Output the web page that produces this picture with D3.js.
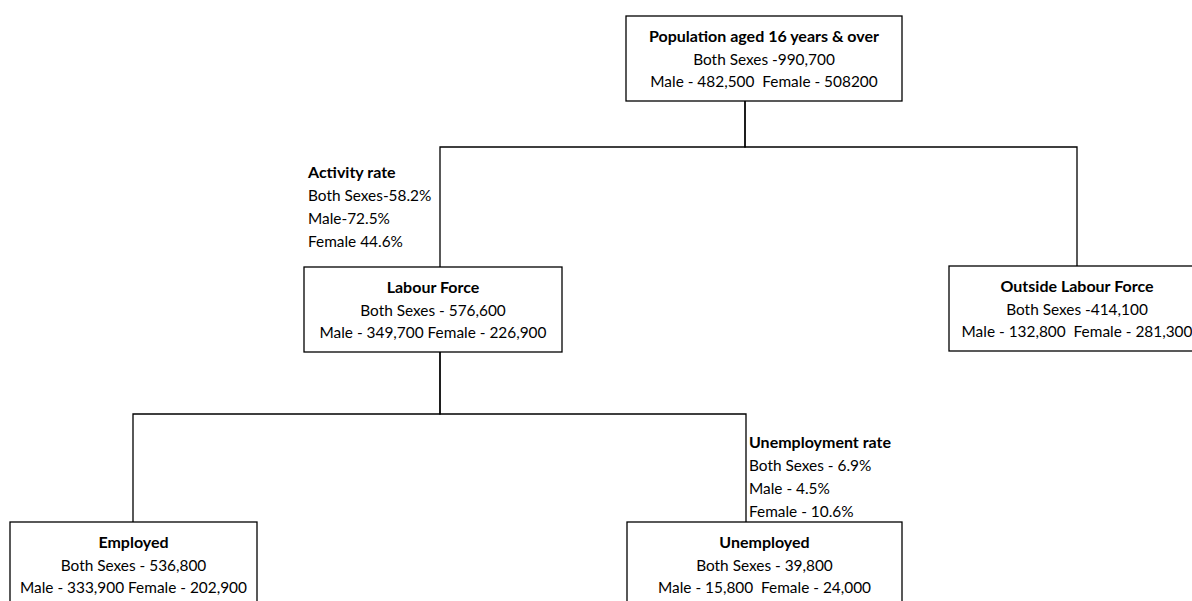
<!DOCTYPE html>
<html>
<head>
<meta charset="utf-8">
<script src="https://cdn.jsdelivr.net/npm/d3@7"></script>
<style>
  body { margin: 0; background: #fff; }
  svg { display: block; font-family: Lato, "Open Sans", sans-serif; }
</style>
</head>
<body>
<div id="chart-area"></div>
<script>
// node texts
var nodeTitles = ['Population aged 16 years & over', 'Labour Force', 'Outside Labour Force', 'Employed', 'Unemployed'];
var bothSexes = ['Both Sexes -990,700', 'Both Sexes - 576,600', 'Both Sexes -414,100', 'Both Sexes - 536,800', 'Both Sexes - 39,800'];
var maleFemale = ['Male - 482,500  Female - 508200', 'Male - 349,700 Female - 226,900', 'Male - 132,800  Female - 281,300',
                  'Male - 333,900 Female - 202,900', 'Male - 15,800  Female - 24,000'];
var parents = [null, 0, 0, 1, 1];

// rate notes
var rateTitles = ['Activity rate', 'Unemployment rate'];
var rateLines = [['Both Sexes-58.2%', 'Male-72.5%', 'Female 44.6%'],
                 ['Both Sexes - 6.9%', 'Male - 4.5%', 'Female - 10.6%']];

// layout (pixels)
var def = {
    width: 1192,
    height: 601,
    boxH: 85,
    fs: 15.4,
    fsBold: 16,
    lineGap: 23
};
var layout = [
    {cx: 764, top: 16, w: 276, stem: 745},
    {cx: 433, top: 267, w: 258, stem: 440},
    {cx: 1077, top: 266, w: 256, stem: 1077},
    {cx: 133.5, top: 522, w: 247, stem: 133},
    {cx: 764.5, top: 522, w: 275, stem: 746}
];
var elbowY = {0: 147, 1: 414};
var notePos = [{x: 308, y: 178}, {x: 749, y: 448}];

var x = d3.scaleLinear().domain([0, def.width]).range([0, def.width]);
var y = d3.scaleLinear().domain([0, def.height]).range([0, def.height]);

var nodes = nodeTitles.map(function(t, i) {
    return {id: i, title: t, both: bothSexes[i], mf: maleFemale[i], parent: parents[i], pos: layout[i]};
});

var svg = d3.select('#chart-area').append('svg')
    .attr('width', def.width)
    .attr('height', def.height);

// connectors
var links = svg.append('g').attr('class', 'links');
nodes.filter(function(d) { return d.parent !== null; }).forEach(function(d) {
    var p = nodes[d.parent];
    var ey = elbowY[p.id];
    links.append('path')
        .attr('d', 'M' + x(p.pos.stem) + ',' + y(p.pos.top + def.boxH) +
                   'V' + y(ey) + 'H' + x(d.pos.stem) + 'V' + y(d.pos.top))
        .attr('fill', 'none')
        .attr('stroke', '#000')
        .attr('stroke-width', 1.3);
});

// boxes
var box = svg.selectAll('g.node')
    .data(nodes)
    .enter()
    .append('g')
    .attr('class', 'node');

box.append('rect')
    .attr('x', function(d) { return x(d.pos.cx - d.pos.w / 2); })
    .attr('y', function(d) { return y(d.pos.top); })
    .attr('width', function(d) { return d.pos.w; })
    .attr('height', def.boxH)
    .attr('fill', '#fff')
    .attr('stroke', '#000')
    .attr('stroke-width', 1.3);

var rows = [
    {key: 'title', dy: 26, bold: true},
    {key: 'both', dy: 49, bold: false},
    {key: 'mf', dy: 71, bold: false}
];
rows.forEach(function(r) {
    box.append('text')
        .attr('x', function(d) { return x(d.pos.cx); })
        .attr('y', function(d) { return y(d.pos.top + r.dy); })
        .attr('text-anchor', 'middle')
        .attr('font-size', (r.bold ? def.fsBold : def.fs) + 'px')
        .attr('font-weight', r.bold ? 'bold' : 'normal')
        .attr('fill', '#000')
        .style('white-space', 'pre')
        .text(function(d) { return d[r.key]; });
});

// rate notes
rateTitles.forEach(function(t, i) {
    var g = svg.append('g').attr('class', 'note');
    [t].concat(rateLines[i]).forEach(function(line, j) {
        g.append('text')
            .attr('x', x(notePos[i].x))
            .attr('y', y(notePos[i].y + j * def.lineGap))
            .attr('font-size', (j === 0 ? def.fsBold : def.fs) + 'px')
            .attr('font-weight', j === 0 ? 'bold' : 'normal')
            .attr('fill', '#000')
            .text(line);
    });
});
</script>
</body>
</html>
